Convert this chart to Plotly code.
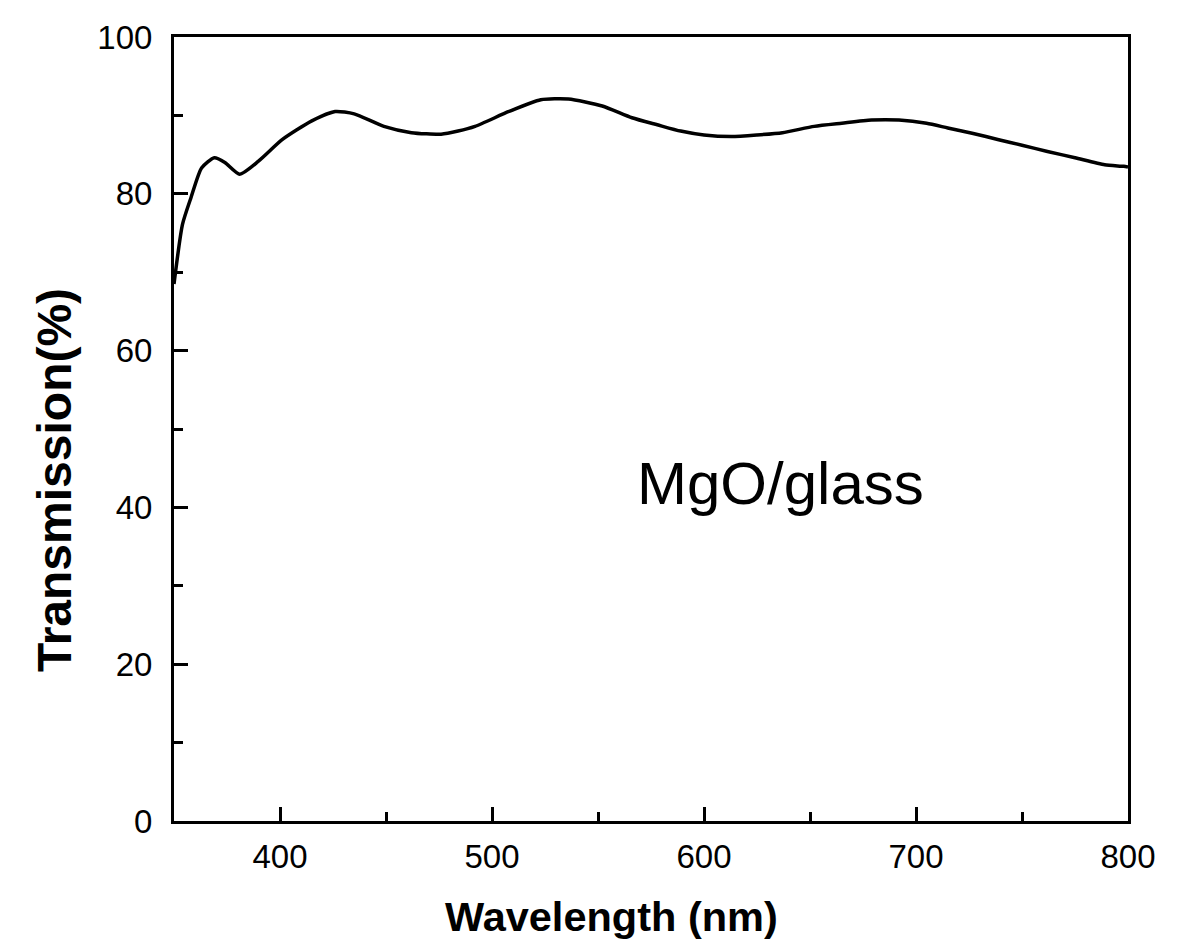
import plotly.graph_objects as go

wavelength = [350, 354, 358, 363, 369, 374, 381, 390, 401, 415, 426, 435, 449, 462, 476, 484, 492,
              508, 523, 536, 552, 566, 578, 589, 600, 613, 625, 637, 652, 665, 679, 692, 705,
              715, 727, 739, 750, 762, 775, 789, 798, 800]
transmission = [68.5, 76.1, 79.5, 83.3, 84.6, 84.0, 82.5, 84.2, 86.9, 89.3, 90.5, 90.2, 88.6, 87.8,
                87.6, 88.0, 88.6, 90.5, 92.0, 92.1, 91.2, 89.7, 88.8, 88.0, 87.5, 87.3, 87.5,
                87.8, 88.6, 89.0, 89.4, 89.4, 89.0, 88.4, 87.7, 86.9, 86.2, 85.4, 84.6, 83.7, 83.5, 83.4]

FONT = "Liberation Sans, Arial, sans-serif"

fig = go.Figure()
fig.add_trace(go.Scatter(x=wavelength, y=transmission, mode="lines",
                         line=dict(color="black", width=3.5, shape="spline", smoothing=0.6),
                         showlegend=False, hoverinfo="skip"))

fig.add_annotation(x=636, y=43, text="MgO/glass", showarrow=False,
                   font=dict(family=FONT, size=60, color="black"))

# axis titles as annotations (offset from axis centre as in the original)
fig.add_annotation(xref="paper", yref="paper", x=0.459, y=-0.1224, text="<b>Wavelength (nm)</b>",
                   showarrow=False, xanchor="center", yanchor="middle",
                   font=dict(family=FONT, size=41.5, color="black"))
fig.add_annotation(xref="paper", yref="paper", x=-0.1247, y=0.435, text="<b>Transmission(%)</b>",
                   showarrow=False, textangle=-90, xanchor="center", yanchor="middle",
                   font=dict(family=FONT, size=48, color="black"))

axis_common = dict(showline=True, linecolor="black", linewidth=3, mirror=True,
                   ticks="inside", ticklen=14, tickwidth=3, tickcolor="black",
                   showgrid=False, zeroline=False,
                   tickfont=dict(family=FONT, size=33, color="black"))

fig.update_xaxes(range=[350, 800], tick0=400, dtick=100, ticklabelstandoff=4,
                 minor=dict(ticks="inside", ticklen=9, tickwidth=2.5, tickcolor="black", dtick=50, tick0=350),
                 **axis_common)
fig.update_yaxes(range=[0, 100], dtick=20, ticklabelstandoff=12,
                 minor=dict(ticks="inside", ticklen=9, tickwidth=2.5, tickcolor="black", dtick=10),
                 **axis_common)

fig.update_layout(width=1180, height=947, plot_bgcolor="white", paper_bgcolor="white",
                  margin=dict(l=174, r=52, t=37, b=126, autoexpand=False))

fig.write_html("out.html")
